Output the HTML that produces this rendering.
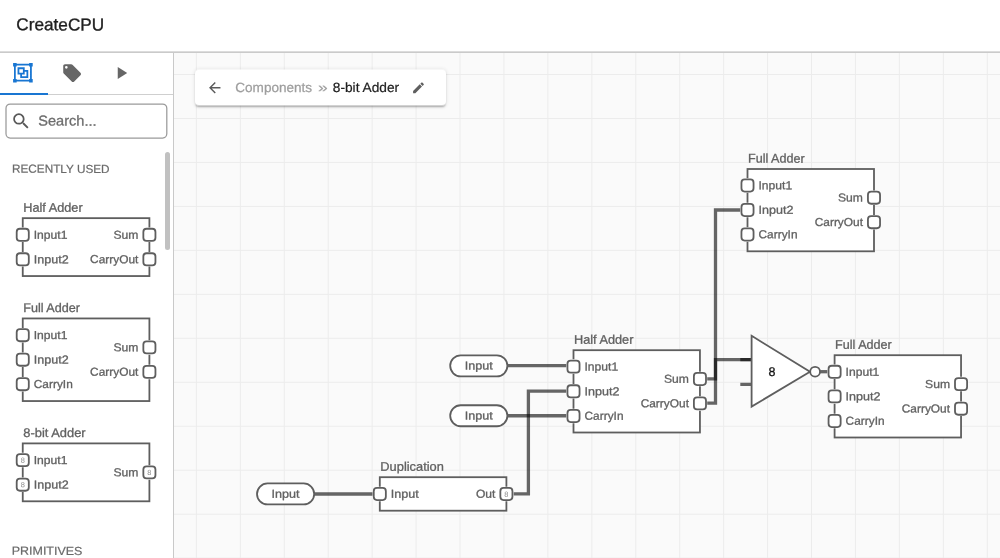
<!DOCTYPE html>
<html lang="en">
<head>
<meta charset="utf-8">
<title>CreateCPU</title>
<style>
*{box-sizing:border-box;margin:0;padding:0}
html,body{width:1000px;height:558px;overflow:hidden;background:#fff;font-family:"Liberation Sans",sans-serif}
text{font-family:"Liberation Sans",sans-serif}
#header{position:absolute;left:0;top:0;width:1000px;height:53px;background:#fff}
#sidebar{position:absolute;left:0;top:53px;width:174px;height:505px;background:#fff;border-right:1px solid #c9c9c9;overflow:hidden}
#tabs{position:absolute;left:0;top:0;width:173px;height:42px;border-bottom:1px solid #cfcfcf}
#tabs .sel{position:absolute;left:0;top:40px;width:47.6px;height:2px;background:#1976d2}
#search{position:absolute;left:6px;top:51px;width:161px;height:34px;border-radius:4px;background:#fff}
#scroll{position:absolute;left:164.5px;top:99px;width:5px;height:97.5px;border-radius:2.5px;background:#c1c1c1}
#canvas{position:absolute;left:174px;top:53px;width:826px;height:505px;background-color:#fafafa;
 background-image:linear-gradient(to right,#ececec 1px,transparent 1px),linear-gradient(to bottom,#ececec 1px,transparent 1px);
 background-size:43.95px 43.98px;background-position:21.9px 21px}
#crumb{position:absolute;left:195px;top:69px;width:251px;height:36.4px;background:#fff;border-radius:4px;transform:translateY(0.5px);will-change:transform;box-shadow:0 2.4px 0.9px -1.6px rgba(0,0,0,.2),0 1.6px 1.6px 0 rgba(0,0,0,.14),0 0.8px 4px 0 rgba(0,0,0,.12)}
#overlay{position:absolute;left:0;top:0;width:1000px;height:558px;pointer-events:none;will-change:transform}
#header h1,#search span,.sect,</style>
</head>
<body>
<div id="canvas"></div>
<div id="header"></div>
<div id="sidebar">
  <div id="tabs"><div class="sel"></div></div>
  <div id="search"></div>
  <div id="scroll"></div>
</div>
<div id="crumb"></div>
<svg id="overlay" viewBox="0 0 1000 558">
<line x1="0" y1="52.1" x2="1000" y2="52.1" stroke="#b9b9b9" stroke-width="1.1"/>
<rect x="6" y="104" width="160.8" height="34" rx="4.2" ry="4.2" fill="none" stroke="#9a9a9a" stroke-width="1.25"/>
<g id="icons">
<svg x="12.20" y="62.00" width="21.4" height="21.4" viewBox="0 0 24 24"><path d="M1,1V5H2V19H1V23H5V22H19V23H23V19H22V5H23V1H19V2H5V1M5,4H19V5H20V19H19V20H5V19H4V5H5M6,6V14H9V18H18V9H14V6M8,8H12V12H8M14,11H16V16H11V14H14" fill="#1976d2"/></svg>
<svg x="61.45" y="62.45" width="21.3" height="21.3" viewBox="0 0 24 24"><path d="M5.5,7A1.5,1.5 0 0,1 4,5.5A1.5,1.5 0 0,1 5.5,4A1.5,1.5 0 0,1 7,5.5A1.5,1.5 0 0,1 5.5,7M21.41,11.58L12.41,2.58C12.05,2.22 11.55,2 11,2H4C2.89,2 2,2.89 2,4V11C2,11.55 2.22,12.05 2.59,12.41L11.58,21.41C11.95,21.77 12.45,22 13,22C13.55,22 14.05,21.77 14.41,21.41L21.41,14.41C21.78,14.05 22,13.55 22,13C22,12.44 21.77,11.94 21.41,11.58Z" fill="#666"/></svg>
<svg x="110.90" y="62.65" width="20.6" height="20.6" viewBox="0 0 24 24"><path d="M8,5.14V19.14L19,12.14L8,5.14Z" fill="#666"/></svg>
<svg x="10.57" y="110.60" width="21" height="21" viewBox="0 0 24 24"><path d="M9.5,3A6.5,6.5 0 0,1 16,9.5C16,11.11 15.41,12.59 14.44,13.73L14.71,14H15.5L20.5,19L19,20.5L14,15.5V14.71L13.73,14.44C12.59,15.41 11.11,16 9.5,16A6.5,6.5 0 0,1 3,9.5A6.5,6.5 0 0,1 9.5,3M9.5,5C7,5 5,7 5,9.5C5,12 7,14 9.5,14C12,14 14,12 14,9.5C14,7 12,5 9.5,5Z" fill="#595959"/></svg>
<svg x="206.05" y="79.15" width="17.3" height="17.3" viewBox="0 0 24 24"><path d="M20,11V13H8L13.5,18.5L12.08,19.92L4.16,12L12.08,4.08L13.5,5.5L8,11H20Z" fill="#5c5c5c"/></svg>
<svg x="411.30" y="80.60" width="14.4" height="14.4" viewBox="0 0 24 24"><path d="M20.71,7.04C21.1,6.65 21.1,6 20.71,5.63L18.37,3.29C18,2.9 17.35,2.9 16.96,3.29L15.12,5.12L18.87,8.87M3,17.25V21H6.75L17.81,9.93L14.06,6.18L3,17.25Z" fill="#5f5f5f"/></svg>
</g>
<g id="labels">
<text id="t-title" transform="translate(16.35,30.35) matrix(1 0.0006 0 1 0 0)" font-size="17.3" fill="#1e1e1e" stroke="#1e1e1e" stroke-width="0.35" textLength="87.80" lengthAdjust="spacingAndGlyphs">CreateCPU</text>
<text id="t-search" transform="translate(38.30,125.60) matrix(1 0.0006 0 1 0 0)" font-size="14.3" fill="#6e6e6e" stroke="#6e6e6e" stroke-width="0.3" textLength="58.20" lengthAdjust="spacingAndGlyphs">Search...</text>
<text id="t-recent" transform="translate(12.00,172.85) matrix(1 0.0006 0 1 0 0)" font-size="11.7" fill="#6a6a6a" stroke="#6a6a6a" stroke-width="0.2" textLength="97.60" lengthAdjust="spacingAndGlyphs">RECENTLY USED</text>
<text id="t-prims" transform="translate(11.65,554.85) matrix(1 0.0006 0 1 0 0)" font-size="11.7" fill="#6a6a6a" stroke="#6a6a6a" stroke-width="0.2" textLength="70.80" lengthAdjust="spacingAndGlyphs">PRIMITIVES</text>
<text id="t-comps" transform="translate(235.25,92.00) matrix(1 0.0006 0 1 0 0)" font-size="13.4" fill="#9e9e9e" stroke="#9e9e9e" stroke-width="0.25" textLength="76.90" lengthAdjust="spacingAndGlyphs">Components</text>
<text id="t-raquo" transform="translate(318.00,92.00) matrix(1 0.0006 0 1 0 0)" font-size="13.4" fill="#9e9e9e" stroke="#9e9e9e" stroke-width="0.2" textLength="9.70" lengthAdjust="spacingAndGlyphs">»</text>
<text id="t-adder" transform="translate(332.80,92.00) matrix(1 0.0006 0 1 0 0)" font-size="13.4" fill="#1f1f1f" stroke="#1f1f1f" stroke-width="0.22" textLength="66.30" lengthAdjust="spacingAndGlyphs">8-bit Adder</text>
</g>
<g id="side-components">
<text transform="translate(23.25,211.75) matrix(1 0.0006 0 1 0 0)" font-size="12.5" fill="#616161" stroke="#616161" textLength="59.4" lengthAdjust="spacingAndGlyphs" stroke-width="0.3">Half Adder</text>
<rect x="22.75" y="218.15" width="126.65" height="57.9" fill="#fff" stroke="#5e5e5e" stroke-width="1.8"/>
<rect x="16.70" y="228.75" width="12.1" height="12.1" rx="3.2" ry="3.2" fill="#fff" stroke="#fff" stroke-width="2.4"/><rect x="16.70" y="228.75" width="12.1" height="12.1" rx="3.2" ry="3.2" fill="#fff" stroke="#5e5e5e" stroke-width="1.8"/>
<text transform="translate(33.75,238.65) matrix(1 0.0006 0 1 0 0)" font-size="11.5" fill="#616161" stroke="#616161" textLength="33.7" lengthAdjust="spacingAndGlyphs" stroke-width="0.3">Input1</text>
<rect x="16.70" y="253.25" width="12.1" height="12.1" rx="3.2" ry="3.2" fill="#fff" stroke="#fff" stroke-width="2.4"/><rect x="16.70" y="253.25" width="12.1" height="12.1" rx="3.2" ry="3.2" fill="#fff" stroke="#5e5e5e" stroke-width="1.8"/>
<text transform="translate(33.75,263.15) matrix(1 0.0006 0 1 0 0)" font-size="11.5" fill="#616161" stroke="#616161" textLength="34.9" lengthAdjust="spacingAndGlyphs" stroke-width="0.3">Input2</text>
<rect x="143.35" y="228.75" width="12.1" height="12.1" rx="3.2" ry="3.2" fill="#fff" stroke="#fff" stroke-width="2.4"/><rect x="143.35" y="228.75" width="12.1" height="12.1" rx="3.2" ry="3.2" fill="#fff" stroke="#5e5e5e" stroke-width="1.8"/>
<text transform="translate(138.40,238.65) matrix(1 0.0006 0 1 0 0)" font-size="11.5" fill="#616161" stroke="#616161" text-anchor="end" textLength="25.0" lengthAdjust="spacingAndGlyphs" stroke-width="0.3">Sum</text>
<rect x="143.35" y="253.25" width="12.1" height="12.1" rx="3.2" ry="3.2" fill="#fff" stroke="#fff" stroke-width="2.4"/><rect x="143.35" y="253.25" width="12.1" height="12.1" rx="3.2" ry="3.2" fill="#fff" stroke="#5e5e5e" stroke-width="1.8"/>
<text transform="translate(138.40,263.15) matrix(1 0.0006 0 1 0 0)" font-size="11.5" fill="#616161" stroke="#616161" text-anchor="end" textLength="48.3" lengthAdjust="spacingAndGlyphs" stroke-width="0.3">CarryOut</text>
<text transform="translate(23.25,312.05) matrix(1 0.0006 0 1 0 0)" font-size="12.5" fill="#616161" stroke="#616161" textLength="56.7" lengthAdjust="spacingAndGlyphs" stroke-width="0.3">Full Adder</text>
<rect x="22.75" y="318.45" width="126.65" height="82.6" fill="#fff" stroke="#5e5e5e" stroke-width="1.8"/>
<rect x="16.70" y="329.15" width="12.1" height="12.1" rx="3.2" ry="3.2" fill="#fff" stroke="#fff" stroke-width="2.4"/><rect x="16.70" y="329.15" width="12.1" height="12.1" rx="3.2" ry="3.2" fill="#fff" stroke="#5e5e5e" stroke-width="1.8"/>
<text transform="translate(33.75,339.05) matrix(1 0.0006 0 1 0 0)" font-size="11.5" fill="#616161" stroke="#616161" textLength="33.7" lengthAdjust="spacingAndGlyphs" stroke-width="0.3">Input1</text>
<rect x="16.70" y="353.65" width="12.1" height="12.1" rx="3.2" ry="3.2" fill="#fff" stroke="#fff" stroke-width="2.4"/><rect x="16.70" y="353.65" width="12.1" height="12.1" rx="3.2" ry="3.2" fill="#fff" stroke="#5e5e5e" stroke-width="1.8"/>
<text transform="translate(33.75,363.55) matrix(1 0.0006 0 1 0 0)" font-size="11.5" fill="#616161" stroke="#616161" textLength="34.9" lengthAdjust="spacingAndGlyphs" stroke-width="0.3">Input2</text>
<rect x="16.70" y="378.15" width="12.1" height="12.1" rx="3.2" ry="3.2" fill="#fff" stroke="#fff" stroke-width="2.4"/><rect x="16.70" y="378.15" width="12.1" height="12.1" rx="3.2" ry="3.2" fill="#fff" stroke="#5e5e5e" stroke-width="1.8"/>
<text transform="translate(33.75,388.05) matrix(1 0.0006 0 1 0 0)" font-size="11.5" fill="#616161" stroke="#616161" textLength="39.0" lengthAdjust="spacingAndGlyphs" stroke-width="0.3">CarryIn</text>
<rect x="143.35" y="341.35" width="12.1" height="12.1" rx="3.2" ry="3.2" fill="#fff" stroke="#fff" stroke-width="2.4"/><rect x="143.35" y="341.35" width="12.1" height="12.1" rx="3.2" ry="3.2" fill="#fff" stroke="#5e5e5e" stroke-width="1.8"/>
<text transform="translate(138.40,351.25) matrix(1 0.0006 0 1 0 0)" font-size="11.5" fill="#616161" stroke="#616161" text-anchor="end" textLength="25.0" lengthAdjust="spacingAndGlyphs" stroke-width="0.3">Sum</text>
<rect x="143.35" y="365.85" width="12.1" height="12.1" rx="3.2" ry="3.2" fill="#fff" stroke="#fff" stroke-width="2.4"/><rect x="143.35" y="365.85" width="12.1" height="12.1" rx="3.2" ry="3.2" fill="#fff" stroke="#5e5e5e" stroke-width="1.8"/>
<text transform="translate(138.40,375.75) matrix(1 0.0006 0 1 0 0)" font-size="11.5" fill="#616161" stroke="#616161" text-anchor="end" textLength="48.3" lengthAdjust="spacingAndGlyphs" stroke-width="0.3">CarryOut</text>
<text transform="translate(23.25,437.00) matrix(1 0.0006 0 1 0 0)" font-size="12.5" fill="#616161" stroke="#616161" textLength="62.4" lengthAdjust="spacingAndGlyphs" stroke-width="0.3">8-bit Adder</text>
<rect x="22.75" y="443.4" width="126.65" height="57.9" fill="#fff" stroke="#5e5e5e" stroke-width="1.8"/>
<rect x="16.70" y="454.05" width="12.1" height="12.1" rx="3.2" ry="3.2" fill="#fff" stroke="#fff" stroke-width="2.4"/><rect x="16.70" y="454.05" width="12.1" height="12.1" rx="3.2" ry="3.2" fill="#fff" stroke="#5e5e5e" stroke-width="1.8"/><text transform="translate(22.75,462.75) matrix(1 0.0006 0 1 0 0)" font-size="7.4" fill="#8c8c8c" stroke="#8c8c8c" text-anchor="middle" stroke-width="0">8</text>
<text transform="translate(33.75,463.95) matrix(1 0.0006 0 1 0 0)" font-size="11.5" fill="#616161" stroke="#616161" textLength="33.7" lengthAdjust="spacingAndGlyphs" stroke-width="0.3">Input1</text>
<rect x="16.70" y="478.65" width="12.1" height="12.1" rx="3.2" ry="3.2" fill="#fff" stroke="#fff" stroke-width="2.4"/><rect x="16.70" y="478.65" width="12.1" height="12.1" rx="3.2" ry="3.2" fill="#fff" stroke="#5e5e5e" stroke-width="1.8"/><text transform="translate(22.75,487.35) matrix(1 0.0006 0 1 0 0)" font-size="7.4" fill="#8c8c8c" stroke="#8c8c8c" text-anchor="middle" stroke-width="0">8</text>
<text transform="translate(33.75,488.55) matrix(1 0.0006 0 1 0 0)" font-size="11.5" fill="#616161" stroke="#616161" textLength="34.9" lengthAdjust="spacingAndGlyphs" stroke-width="0.3">Input2</text>
<rect x="143.35" y="466.35" width="12.1" height="12.1" rx="3.2" ry="3.2" fill="#fff" stroke="#fff" stroke-width="2.4"/><rect x="143.35" y="466.35" width="12.1" height="12.1" rx="3.2" ry="3.2" fill="#fff" stroke="#5e5e5e" stroke-width="1.8"/><text transform="translate(149.40,475.05) matrix(1 0.0006 0 1 0 0)" font-size="7.4" fill="#8c8c8c" stroke="#8c8c8c" text-anchor="middle" stroke-width="0">8</text>
<text transform="translate(138.40,476.25) matrix(1 0.0006 0 1 0 0)" font-size="11.5" fill="#616161" stroke="#616161" text-anchor="end" textLength="25.0" lengthAdjust="spacingAndGlyphs" stroke-width="0.3">Sum</text>
</g>
<g id="canvas-components">
<path d="M507,365.65 H568" fill="none" stroke="rgba(0,0,0,0.595)" stroke-width="3.3" stroke-linejoin="miter"/>
<path d="M507,415.75 H568" fill="none" stroke="rgba(0,0,0,0.595)" stroke-width="3.3" stroke-linejoin="miter"/>
<path d="M314,494 H374" fill="none" stroke="rgba(0,0,0,0.595)" stroke-width="3.3" stroke-linejoin="miter"/>
<path d="M511,493.9 H528.4 V391.2 H568" fill="none" stroke="rgba(0,0,0,0.595)" stroke-width="3.3" stroke-linejoin="miter"/>
<path d="M705,378.9 H715.5 V210 H742" fill="none" stroke="rgba(0,0,0,0.595)" stroke-width="3.3" stroke-linejoin="miter"/>
<path d="M705,403.1 H715.5 V359.55 H751.5" fill="none" stroke="rgba(0,0,0,0.595)" stroke-width="3.3" stroke-linejoin="miter"/>
<path d="M820,371.7 H829" fill="none" stroke="rgba(0,0,0,0.595)" stroke-width="3.3" stroke-linejoin="miter"/>
<path d="M740.3,359.55 H751.5 M740.3,384.35 H751.5" stroke="rgba(0,0,0,0.595)" stroke-width="3.3" fill="none"/>
<path d="M751.6,335.8 L810,371.8 L751.6,406.6 Z" fill="#fff" stroke="#5e5e5e" stroke-width="1.8" stroke-linejoin="miter"/>
<circle cx="815.1" cy="371.7" r="4.9" fill="#fff" stroke="#5e5e5e" stroke-width="1.8"/>
<text transform="translate(771.90,375.90) matrix(1 0.0006 0 1 0 0)" font-size="12.5" fill="#111" stroke="#111" text-anchor="middle" stroke-width="0.3">8</text>
<text transform="translate(748.00,162.60) matrix(1 0.0006 0 1 0 0)" font-size="12.5" fill="#616161" stroke="#616161" textLength="56.7" lengthAdjust="spacingAndGlyphs" stroke-width="0.3">Full Adder</text>
<rect x="747.5" y="169" width="126.5" height="82.3" fill="#fff" stroke="#5e5e5e" stroke-width="1.8"/>
<rect x="741.45" y="179.45" width="12.1" height="12.1" rx="3.2" ry="3.2" fill="#fff" stroke="#fff" stroke-width="2.4"/><rect x="741.45" y="179.45" width="12.1" height="12.1" rx="3.2" ry="3.2" fill="#fff" stroke="#5e5e5e" stroke-width="1.8"/>
<text transform="translate(758.50,189.35) matrix(1 0.0006 0 1 0 0)" font-size="11.5" fill="#616161" stroke="#616161" textLength="33.7" lengthAdjust="spacingAndGlyphs" stroke-width="0.3">Input1</text>
<rect x="741.45" y="203.95" width="12.1" height="12.1" rx="3.2" ry="3.2" fill="#fff" stroke="#fff" stroke-width="2.4"/><rect x="741.45" y="203.95" width="12.1" height="12.1" rx="3.2" ry="3.2" fill="#fff" stroke="#5e5e5e" stroke-width="1.8"/>
<text transform="translate(758.50,213.85) matrix(1 0.0006 0 1 0 0)" font-size="11.5" fill="#616161" stroke="#616161" textLength="34.9" lengthAdjust="spacingAndGlyphs" stroke-width="0.3">Input2</text>
<rect x="741.45" y="228.45" width="12.1" height="12.1" rx="3.2" ry="3.2" fill="#fff" stroke="#fff" stroke-width="2.4"/><rect x="741.45" y="228.45" width="12.1" height="12.1" rx="3.2" ry="3.2" fill="#fff" stroke="#5e5e5e" stroke-width="1.8"/>
<text transform="translate(758.50,238.35) matrix(1 0.0006 0 1 0 0)" font-size="11.5" fill="#616161" stroke="#616161" textLength="39.0" lengthAdjust="spacingAndGlyphs" stroke-width="0.3">CarryIn</text>
<rect x="867.95" y="191.65" width="12.1" height="12.1" rx="3.2" ry="3.2" fill="#fff" stroke="#fff" stroke-width="2.4"/><rect x="867.95" y="191.65" width="12.1" height="12.1" rx="3.2" ry="3.2" fill="#fff" stroke="#5e5e5e" stroke-width="1.8"/>
<text transform="translate(863.00,201.55) matrix(1 0.0006 0 1 0 0)" font-size="11.5" fill="#616161" stroke="#616161" text-anchor="end" textLength="25.0" lengthAdjust="spacingAndGlyphs" stroke-width="0.3">Sum</text>
<rect x="867.95" y="216.15" width="12.1" height="12.1" rx="3.2" ry="3.2" fill="#fff" stroke="#fff" stroke-width="2.4"/><rect x="867.95" y="216.15" width="12.1" height="12.1" rx="3.2" ry="3.2" fill="#fff" stroke="#5e5e5e" stroke-width="1.8"/>
<text transform="translate(863.00,226.05) matrix(1 0.0006 0 1 0 0)" font-size="11.5" fill="#616161" stroke="#616161" text-anchor="end" textLength="48.3" lengthAdjust="spacingAndGlyphs" stroke-width="0.3">CarryOut</text>
<text transform="translate(574.00,343.80) matrix(1 0.0006 0 1 0 0)" font-size="12.5" fill="#616161" stroke="#616161" textLength="59.4" lengthAdjust="spacingAndGlyphs" stroke-width="0.3">Half Adder</text>
<rect x="573.5" y="350.2" width="126.45" height="82.3" fill="#fff" stroke="#5e5e5e" stroke-width="1.8"/>
<rect x="567.45" y="360.55" width="12.1" height="12.1" rx="3.2" ry="3.2" fill="#fff" stroke="#fff" stroke-width="2.4"/><rect x="567.45" y="360.55" width="12.1" height="12.1" rx="3.2" ry="3.2" fill="#fff" stroke="#5e5e5e" stroke-width="1.8"/>
<text transform="translate(584.50,370.45) matrix(1 0.0006 0 1 0 0)" font-size="11.5" fill="#616161" stroke="#616161" textLength="33.7" lengthAdjust="spacingAndGlyphs" stroke-width="0.3">Input1</text>
<rect x="567.45" y="385.25" width="12.1" height="12.1" rx="3.2" ry="3.2" fill="#fff" stroke="#fff" stroke-width="2.4"/><rect x="567.45" y="385.25" width="12.1" height="12.1" rx="3.2" ry="3.2" fill="#fff" stroke="#5e5e5e" stroke-width="1.8"/>
<text transform="translate(584.50,395.15) matrix(1 0.0006 0 1 0 0)" font-size="11.5" fill="#616161" stroke="#616161" textLength="34.9" lengthAdjust="spacingAndGlyphs" stroke-width="0.3">Input2</text>
<rect x="567.45" y="409.95" width="12.1" height="12.1" rx="3.2" ry="3.2" fill="#fff" stroke="#fff" stroke-width="2.4"/><rect x="567.45" y="409.95" width="12.1" height="12.1" rx="3.2" ry="3.2" fill="#fff" stroke="#5e5e5e" stroke-width="1.8"/>
<text transform="translate(584.50,419.85) matrix(1 0.0006 0 1 0 0)" font-size="11.5" fill="#616161" stroke="#616161" textLength="39.0" lengthAdjust="spacingAndGlyphs" stroke-width="0.3">CarryIn</text>
<rect x="693.90" y="372.95" width="12.1" height="12.1" rx="3.2" ry="3.2" fill="#fff" stroke="#fff" stroke-width="2.4"/><rect x="693.90" y="372.95" width="12.1" height="12.1" rx="3.2" ry="3.2" fill="#fff" stroke="#5e5e5e" stroke-width="1.8"/>
<text transform="translate(688.95,382.85) matrix(1 0.0006 0 1 0 0)" font-size="11.5" fill="#616161" stroke="#616161" text-anchor="end" textLength="25.0" lengthAdjust="spacingAndGlyphs" stroke-width="0.3">Sum</text>
<rect x="693.90" y="397.35" width="12.1" height="12.1" rx="3.2" ry="3.2" fill="#fff" stroke="#fff" stroke-width="2.4"/><rect x="693.90" y="397.35" width="12.1" height="12.1" rx="3.2" ry="3.2" fill="#fff" stroke="#5e5e5e" stroke-width="1.8"/>
<text transform="translate(688.95,407.25) matrix(1 0.0006 0 1 0 0)" font-size="11.5" fill="#616161" stroke="#616161" text-anchor="end" textLength="48.3" lengthAdjust="spacingAndGlyphs" stroke-width="0.3">CarryOut</text>
<text transform="translate(835.10,348.80) matrix(1 0.0006 0 1 0 0)" font-size="12.5" fill="#616161" stroke="#616161" textLength="56.7" lengthAdjust="spacingAndGlyphs" stroke-width="0.3">Full Adder</text>
<rect x="834.6" y="355.2" width="126.45" height="82.3" fill="#fff" stroke="#5e5e5e" stroke-width="1.8"/>
<rect x="828.55" y="365.75" width="12.1" height="12.1" rx="3.2" ry="3.2" fill="#fff" stroke="#fff" stroke-width="2.4"/><rect x="828.55" y="365.75" width="12.1" height="12.1" rx="3.2" ry="3.2" fill="#fff" stroke="#5e5e5e" stroke-width="1.8"/>
<text transform="translate(845.60,375.65) matrix(1 0.0006 0 1 0 0)" font-size="11.5" fill="#616161" stroke="#616161" textLength="33.7" lengthAdjust="spacingAndGlyphs" stroke-width="0.3">Input1</text>
<rect x="828.55" y="390.35" width="12.1" height="12.1" rx="3.2" ry="3.2" fill="#fff" stroke="#fff" stroke-width="2.4"/><rect x="828.55" y="390.35" width="12.1" height="12.1" rx="3.2" ry="3.2" fill="#fff" stroke="#5e5e5e" stroke-width="1.8"/>
<text transform="translate(845.60,400.25) matrix(1 0.0006 0 1 0 0)" font-size="11.5" fill="#616161" stroke="#616161" textLength="34.9" lengthAdjust="spacingAndGlyphs" stroke-width="0.3">Input2</text>
<rect x="828.55" y="414.95" width="12.1" height="12.1" rx="3.2" ry="3.2" fill="#fff" stroke="#fff" stroke-width="2.4"/><rect x="828.55" y="414.95" width="12.1" height="12.1" rx="3.2" ry="3.2" fill="#fff" stroke="#5e5e5e" stroke-width="1.8"/>
<text transform="translate(845.60,424.85) matrix(1 0.0006 0 1 0 0)" font-size="11.5" fill="#616161" stroke="#616161" textLength="39.0" lengthAdjust="spacingAndGlyphs" stroke-width="0.3">CarryIn</text>
<rect x="955.00" y="378.05" width="12.1" height="12.1" rx="3.2" ry="3.2" fill="#fff" stroke="#fff" stroke-width="2.4"/><rect x="955.00" y="378.05" width="12.1" height="12.1" rx="3.2" ry="3.2" fill="#fff" stroke="#5e5e5e" stroke-width="1.8"/>
<text transform="translate(950.05,387.95) matrix(1 0.0006 0 1 0 0)" font-size="11.5" fill="#616161" stroke="#616161" text-anchor="end" textLength="25.0" lengthAdjust="spacingAndGlyphs" stroke-width="0.3">Sum</text>
<rect x="955.00" y="402.65" width="12.1" height="12.1" rx="3.2" ry="3.2" fill="#fff" stroke="#fff" stroke-width="2.4"/><rect x="955.00" y="402.65" width="12.1" height="12.1" rx="3.2" ry="3.2" fill="#fff" stroke="#5e5e5e" stroke-width="1.8"/>
<text transform="translate(950.05,412.55) matrix(1 0.0006 0 1 0 0)" font-size="11.5" fill="#616161" stroke="#616161" text-anchor="end" textLength="48.3" lengthAdjust="spacingAndGlyphs" stroke-width="0.3">CarryOut</text>
<text transform="translate(380.30,470.80) matrix(1 0.0006 0 1 0 0)" font-size="12.5" fill="#616161" stroke="#616161" textLength="63.6" lengthAdjust="spacingAndGlyphs" stroke-width="0.3">Duplication</text>
<rect x="379.8" y="477.2" width="126.6" height="33.5" fill="#fff" stroke="#5e5e5e" stroke-width="1.8"/>
<rect x="373.75" y="487.95" width="12.1" height="12.1" rx="3.2" ry="3.2" fill="#fff" stroke="#fff" stroke-width="2.4"/><rect x="373.75" y="487.95" width="12.1" height="12.1" rx="3.2" ry="3.2" fill="#fff" stroke="#5e5e5e" stroke-width="1.8"/>
<text transform="translate(390.80,497.85) matrix(1 0.0006 0 1 0 0)" font-size="11.5" fill="#616161" stroke="#616161" textLength="28.0" lengthAdjust="spacingAndGlyphs" stroke-width="0.3">Input</text>
<rect x="500.35" y="487.95" width="12.1" height="12.1" rx="3.2" ry="3.2" fill="#fff" stroke="#fff" stroke-width="2.4"/><rect x="500.35" y="487.95" width="12.1" height="12.1" rx="3.2" ry="3.2" fill="#fff" stroke="#5e5e5e" stroke-width="1.8"/><text transform="translate(506.40,496.65) matrix(1 0.0006 0 1 0 0)" font-size="7.4" fill="#8c8c8c" stroke="#8c8c8c" text-anchor="middle" stroke-width="0">8</text>
<text transform="translate(495.40,497.85) matrix(1 0.0006 0 1 0 0)" font-size="11.5" fill="#616161" stroke="#616161" text-anchor="end" textLength="19.5" lengthAdjust="spacingAndGlyphs" stroke-width="0.3">Out</text>
<rect x="450.2" y="355.35" width="57.2" height="21.0" rx="10.5" ry="10.5" fill="#fff" stroke="#5e5e5e" stroke-width="1.8"/><text transform="translate(478.80,369.55) matrix(1 0.0006 0 1 0 0)" font-size="11.5" fill="#616161" stroke="#616161" text-anchor="middle" textLength="28.0" lengthAdjust="spacingAndGlyphs" stroke-width="0.3">Input</text>
<rect x="450.2" y="405.25" width="57.2" height="21.0" rx="10.5" ry="10.5" fill="#fff" stroke="#5e5e5e" stroke-width="1.8"/><text transform="translate(478.80,419.45) matrix(1 0.0006 0 1 0 0)" font-size="11.5" fill="#616161" stroke="#616161" text-anchor="middle" textLength="28.0" lengthAdjust="spacingAndGlyphs" stroke-width="0.3">Input</text>
<rect x="257.0" y="483.45" width="57.2" height="21.0" rx="10.5" ry="10.5" fill="#fff" stroke="#5e5e5e" stroke-width="1.8"/><text transform="translate(285.60,497.65) matrix(1 0.0006 0 1 0 0)" font-size="11.5" fill="#616161" stroke="#616161" text-anchor="middle" textLength="28.0" lengthAdjust="spacingAndGlyphs" stroke-width="0.3">Input</text>
</g>
</svg>
</body>
</html>
